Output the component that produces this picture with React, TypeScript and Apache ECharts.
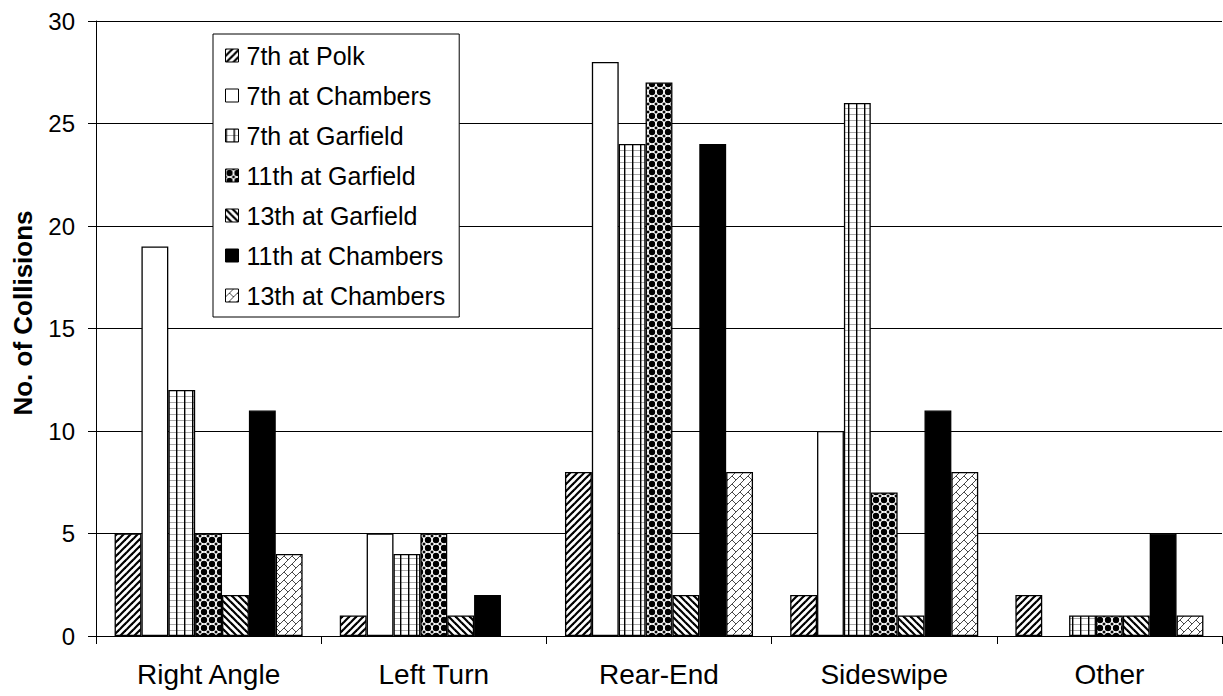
import React, { useEffect, useRef } from "react";
import * as echarts from "echarts";

// Collision types along the x axis
const categories = ["Right Angle", "Left Turn", "Rear-End", "Sideswipe", "Other"];

// Number of collisions per intersection, one value per collision type
const seventhAtPolk = [5, 1, 8, 2, 2];
const seventhAtChambers = [19, 5, 28, 10, 0];
const seventhAtGarfield = [12, 4, 24, 26, 1];
const eleventhAtGarfield = [5, 5, 27, 7, 1];
const thirteenthAtGarfield = [2, 1, 2, 1, 1];
const eleventhAtChambers = [11, 2, 24, 11, 5];
const thirteenthAtChambers = [4, 0, 8, 8, 1];

const seriesNames = [
  "7th at Polk",
  "7th at Chambers",
  "7th at Garfield",
  "11th at Garfield",
  "13th at Garfield",
  "11th at Chambers",
  "13th at Chambers",
];

const yTicks = { min: 0, max: 30, interval: 5 };

const FONT = "'Liberation Sans', Arial, sans-serif";

function makeTile(w: number, h: number, draw: (c: CanvasRenderingContext2D) => void) {
  const cv = document.createElement("canvas");
  cv.width = w;
  cv.height = h;
  const c = cv.getContext("2d")!;
  c.fillStyle = "#fff";
  c.fillRect(0, 0, w, h);
  draw(c);
  return cv;
}

function line(c: CanvasRenderingContext2D, x1: number, y1: number, x2: number, y2: number) {
  c.beginPath();
  c.moveTo(x1, y1);
  c.lineTo(x2, y2);
  c.stroke();
}

function buildPatterns() {
  // forward diagonal hatch
  const fwd = makeTile(7, 7, (c) => {
    c.strokeStyle = "#000";
    c.lineWidth = 2.2;
    line(c, -1, 8, 8, -1);
    line(c, -2, 2, 2, -2);
    line(c, 5, 9, 9, 5);
  });
  // vertical lines with faint horizontal grid
  const vert = makeTile(8, 6, (c) => {
    c.strokeStyle = "#aaa";
    c.lineWidth = 1;
    line(c, 0, 0.5, 8, 0.5);
    c.strokeStyle = "#000";
    c.lineWidth = 1.4;
    line(c, 0.7, 0, 0.7, 6);
  });
  // black dot lattice
  const dots = makeTile(8, 8, (c) => {
    c.fillStyle = "#000";
    c.beginPath();
    c.arc(4, 4, 3.2, 0, Math.PI * 2);
    c.fill();
    for (const [x, y] of [[0, 0], [8, 0], [0, 8], [8, 8]]) {
      c.beginPath();
      c.moveTo(x - 1.8, y);
      c.lineTo(x, y - 1.8);
      c.lineTo(x + 1.8, y);
      c.lineTo(x, y + 1.8);
      c.closePath();
      c.fill();
    }
  });
  // backward diagonal hatch
  const back = makeTile(7, 7, (c) => {
    c.strokeStyle = "#000";
    c.lineWidth = 2.2;
    line(c, -1, -1, 8, 8);
    line(c, 5, -2, 9, 2);
    line(c, -2, 5, 2, 9);
  });
  // light brick weave
  const weave = makeTile(8, 8, (c) => {
    c.strokeStyle = "#333";
    c.lineWidth = 0.9;
    line(c, -1, 9, 9, -1);
    line(c, 4, 4, 8.5, 8.5);
  });
  return [
    { image: fwd, repeat: "repeat" },
    "#fff",
    { image: vert, repeat: "repeat" },
    { image: dots, repeat: "repeat" },
    { image: back, repeat: "repeat" },
    "#000",
    { image: weave, repeat: "repeat" },
  ];
}

export default function App() {
  const ref = useRef<HTMLDivElement>(null);

  useEffect(() => {
    if (!ref.current) return;
    const chart = echarts.init(ref.current, undefined, { renderer: "svg" });
    const fills = buildPatterns();
    const values = [
      seventhAtPolk,
      seventhAtChambers,
      seventhAtGarfield,
      eleventhAtGarfield,
      thirteenthAtGarfield,
      eleventhAtChambers,
      thirteenthAtChambers,
    ];

    chart.setOption({
      animation: false,
      backgroundColor: "#fff",
      textStyle: { fontFamily: FONT },
      grid: { left: 96, right: 1, top: 21, bottom: 60, containLabel: false },
      legend: {
        orient: "vertical",
        left: 213,
        top: 34,
        padding: [9, 14, 9, 12],
        itemGap: 15,
        itemWidth: 13,
        itemHeight: 13,
        icon: "rect",
        backgroundColor: "#fff",
        borderColor: "#000",
        borderWidth: 1,
        borderRadius: 0,
        itemStyle: { borderColor: "#000", borderWidth: 1 },
        textStyle: { fontFamily: FONT, fontSize: 25, color: "#000", padding: [0, 0, 0, 3] },
        data: seriesNames,
      },
      xAxis: {
        type: "category",
        data: categories,
        axisLine: { show: true, lineStyle: { color: "#000", width: 1 } },
        axisTick: { show: true, length: 8, alignWithLabel: false, lineStyle: { color: "#000" } },
        axisLabel: { color: "#000", fontSize: 28, fontFamily: FONT, margin: 24 },
        splitLine: { show: false },
      },
      yAxis: {
        type: "value",
        min: yTicks.min,
        max: yTicks.max,
        interval: yTicks.interval,
        axisLine: { show: true, lineStyle: { color: "#000", width: 1 } },
        axisTick: { show: true, length: 8, lineStyle: { color: "#000" } },
        axisLabel: { color: "#000", fontSize: 24, fontFamily: FONT, margin: 21 },
        splitLine: { show: true, lineStyle: { color: "#000", width: 1 } },
      },
      graphic: [
        {
          type: "text",
          x: 23,
          y: 313,
          rotation: Math.PI / 2,
          style: {
            text: "No. of Collisions",
            fontFamily: FONT,
            fontSize: 26,
            fontWeight: "bold",
            fill: "#000",
            align: "center",
            verticalAlign: "middle",
          },
        },
      ],
      series: seriesNames.map((name, i) => ({
        name,
        type: "bar",
        // zero-height bars get no outline so nothing shows on the baseline
        data: values[i].map((v) =>
          v === 0 ? { value: v, itemStyle: { borderWidth: 0 } } : v
        ),
        barGap: "0%",
        barCategoryGap: "16.5%",
        itemStyle: { color: fills[i], borderColor: "#000", borderWidth: 1.3 },
        emphasis: { disabled: true },
      })),
    });

    return () => chart.dispose();
  }, []);

  return (
    <div
      ref={ref}
      style={{ position: "fixed", left: 0, top: 0, width: 1223, height: 696 }}
    />
  );
}
